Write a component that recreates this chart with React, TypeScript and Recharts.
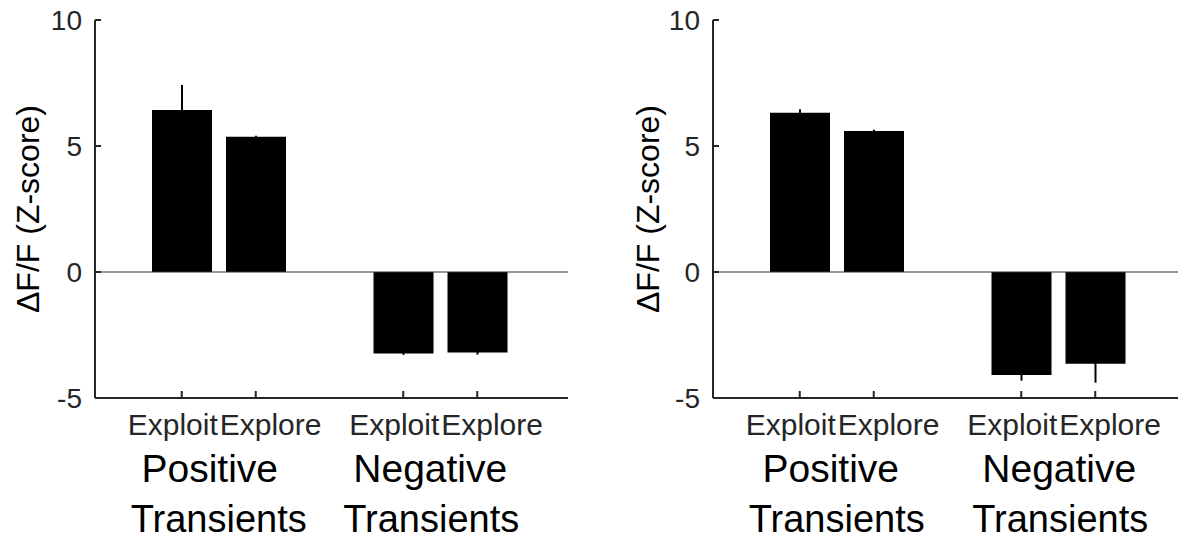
import React from "react";
import {
  BarChart,
  Bar,
  XAxis,
  YAxis,
  ErrorBar,
  ReferenceLine,
} from "recharts";

const CATEGORIES = ["Positive Transients", "Negative Transients"];
const SUB_LABELS = ["Exploit", "Explore"];
const Y_TICKS = [-5, 0, 5, 10];

// left panel
const LEFT_EXPLOIT = [6.43, -3.23];
const LEFT_EXPLORE = [5.37, -3.19];
const LEFT_EXPLOIT_ERR = [0.99, 0.06];
const LEFT_EXPLORE_ERR = [0.04, 0.09];

// right panel
const RIGHT_EXPLOIT = [6.32, -4.09];
const RIGHT_EXPLORE = [5.6, -3.64];
const RIGHT_EXPLOIT_ERR = [0.14, 0.22];
const RIGHT_EXPLORE_ERR = [0.04, 0.75];

const FONT = '"Liberation Sans", Arial, Helvetica, sans-serif';
const AXIS_COLOR = "#262626";
const BAR_SIZE = 60;
const BAR_GAP = 14;

const buildData = (
  exploit: number[],
  explore: number[],
  exploitErr: number[],
  exploreErr: number[]
) =>
  CATEGORIES.map((name, i) => ({
    name,
    exploit: exploit[i],
    explore: explore[i],
    exploitErr: exploitErr[i],
    exploreErr: exploreErr[i],
  }));

const YTick = (props: any) => {
  const { x, y, payload } = props;
  return (
    <g>
      <line x1={x} x2={x + 6} y1={y} y2={y} stroke={AXIS_COLOR} strokeWidth={2} />
      <text
        x={x - 13}
        y={y}
        dy="0.36em"
        textAnchor="end"
        fontSize={28}
        fontFamily={FONT}
        fill={AXIS_COLOR}
      >
        {payload.value}
      </text>
    </g>
  );
};

const makeXTick = (offsets: number[][]) => (props: any) => {
  const { x, y, payload, index } = props;
  const half = (BAR_SIZE + BAR_GAP) / 2;
  const [line1, line2] = String(payload.value).split(" ");
  const off = offsets[index] || [0, 0];
  return (
    <g fontFamily={FONT}>
      <line x1={x - half} x2={x - half} y1={y} y2={y - 7} stroke={AXIS_COLOR} strokeWidth={2} />
      <line x1={x + half} x2={x + half} y1={y} y2={y - 7} stroke={AXIS_COLOR} strokeWidth={2} />
      <text x={x - 1} y={y + 37} textAnchor="end" fontSize={30} fill={AXIS_COLOR}>
        {SUB_LABELS[0]}
      </text>
      <text x={x + 1} y={y + 37} textAnchor="start" fontSize={30} fill={AXIS_COLOR}>
        {SUB_LABELS[1]}
      </text>
      <text x={x + off[0]} y={y + 84} textAnchor="middle" fontSize={39} fill="#000">
        {line1}
      </text>
      <text x={x + off[1]} y={y + 134} textAnchor="middle" fontSize={38} fill="#000">
        {line2}
      </text>
    </g>
  );
};

interface PanelProps {
  left: number;
  labelX: number;
  data: ReturnType<typeof buildData>;
  offsets: number[][];
}

const Panel = ({ left, labelX, data, offsets }: PanelProps) => (
  <div style={{ position: "absolute", left, top: 0 }}>
    <BarChart
      width={600}
      height={540}
      data={data}
      margin={{ top: 20, right: 32, bottom: 0, left: 0 }}
      barGap={BAR_GAP}
    >
      <XAxis
        dataKey="name"
        height={142}
        padding={{ left: 13, right: 17 }}
        axisLine={{ stroke: AXIS_COLOR, strokeWidth: 2 }}
        tickLine={false}
        tickSize={0}
        tickMargin={0}
        interval={0}
        tick={makeXTick(offsets)}
      />
      <YAxis
        width={95}
        domain={[-5, 10]}
        ticks={Y_TICKS}
        allowDataOverflow
        axisLine={{ stroke: AXIS_COLOR, strokeWidth: 2 }}
        tickLine={false}
        tickSize={0}
        tickMargin={0}
        tick={<YTick />}
        label={{
          value: "ΔF/F (Z-score)",
          angle: -90,
          position: "insideLeft",
          offset: labelX,
          style: {
            textAnchor: "middle",
            fontSize: 32,
            fontFamily: FONT,
            fill: "#000",
          },
        }}
      />
      <ReferenceLine y={0} stroke="#333" strokeWidth={1} />
      <Bar dataKey="exploit" fill="#000" barSize={BAR_SIZE} isAnimationActive={false}>
        <ErrorBar
          dataKey="exploitErr"
          width={0}
          stroke="#000"
          strokeWidth={2}
          direction="y"
          isAnimationActive={false}
        />
      </Bar>
      <Bar dataKey="explore" fill="#000" barSize={BAR_SIZE} isAnimationActive={false}>
        <ErrorBar
          dataKey="exploreErr"
          width={0}
          stroke="#000"
          strokeWidth={2}
          direction="y"
          isAnimationActive={false}
        />
      </Bar>
    </BarChart>
  </div>
);

export default function App() {
  const leftData = buildData(LEFT_EXPLOIT, LEFT_EXPLORE, LEFT_EXPLOIT_ERR, LEFT_EXPLORE_ERR);
  const rightData = buildData(RIGHT_EXPLOIT, RIGHT_EXPLORE, RIGHT_EXPLOIT_ERR, RIGHT_EXPLORE_ERR);
  return (
    <div
      style={{
        position: "absolute",
        left: 0,
        top: 0,
        width: 1178,
        height: 540,
        overflow: "hidden",
        background: "#fff",
      }}
    >
      <Panel left={0} labelX={28} data={leftData} offsets={[[-9, 0], [-10, -9]]} />
      <Panel left={618} labelX={29.5} data={rightData} offsets={[[-6, 0], [1, 2]]} />
    </div>
  );
}
